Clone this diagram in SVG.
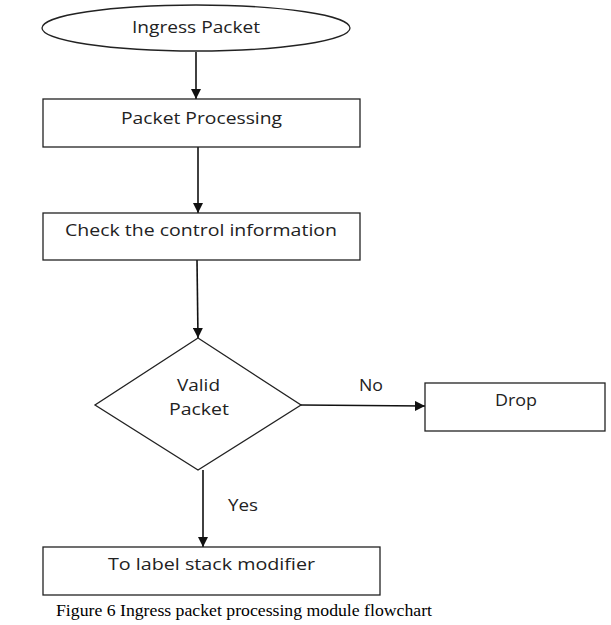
<svg xmlns="http://www.w3.org/2000/svg" width="611" height="625" viewBox="0 0 611 625">
<style>
.shape{fill:#fff;stroke:#222;stroke-width:1.3}
.lbl{font-family:"Open Sans","Liberation Sans",sans-serif;font-size:16px;fill:#222}
.edge{stroke:#111;stroke-width:1.6;fill:none;marker-end:url(#ah)}
.cap{font-family:"Liberation Serif",serif;font-size:16px;fill:#000}
</style>
<defs>
<marker id="ah" viewBox="0 0 10 10" refX="10" refY="5" markerWidth="10" markerHeight="10" markerUnits="userSpaceOnUse" orient="auto">
<path d="M0,0 L10,5 L0,10 z" fill="#111"/>
</marker>
</defs>
<rect width="611" height="625" fill="#fff"/>
<g id="connectors">
<line class="edge" x1="196" y1="52" x2="196" y2="99"/>
<line class="edge" x1="198" y1="147" x2="198" y2="213"/>
<line class="edge" x1="197" y1="260" x2="198" y2="338"/>
<line class="edge" x1="301" y1="405" x2="425" y2="406"/>
<line class="edge" x1="203" y1="470" x2="203" y2="547"/>
<text class="lbl" x="359" y="391" textLength="24" lengthAdjust="spacingAndGlyphs">No</text>
<text class="lbl" x="228" y="511" textLength="30" lengthAdjust="spacingAndGlyphs">Yes</text>
</g>
<g id="ingress">
<ellipse class="shape" cx="196" cy="28" rx="154" ry="23"/>
<text class="lbl" x="132" y="33" textLength="128" lengthAdjust="spacingAndGlyphs">Ingress Packet</text>
</g>
<g id="processing">
<rect class="shape" x="43" y="99" width="317" height="48"/>
<text class="lbl" x="121" y="124" textLength="161" lengthAdjust="spacingAndGlyphs">Packet Processing</text>
</g>
<g id="check">
<rect class="shape" x="43" y="213" width="317" height="47"/>
<text class="lbl" x="65" y="236" textLength="272" lengthAdjust="spacingAndGlyphs">Check the control information</text>
</g>
<g id="valid">
<polygon class="shape" points="198,338 301,405 198,470 95,405"/>
<text class="lbl" x="177" y="391" textLength="43" lengthAdjust="spacingAndGlyphs">Valid</text>
<text class="lbl" x="169" y="415" textLength="60" lengthAdjust="spacingAndGlyphs">Packet</text>
</g>
<g id="drop">
<rect class="shape" x="425" y="383" width="180" height="48"/>
<text class="lbl" x="495" y="406" textLength="42" lengthAdjust="spacingAndGlyphs">Drop</text>
</g>
<g id="modifier">
<rect class="shape" x="43" y="547" width="337" height="48"/>
<text class="lbl" x="108" y="570" textLength="207" lengthAdjust="spacingAndGlyphs">To label stack modifier</text>
</g>
<text class="cap" x="56" y="616" textLength="376" lengthAdjust="spacingAndGlyphs">Figure 6 Ingress packet processing module flowchart</text>
</svg>
